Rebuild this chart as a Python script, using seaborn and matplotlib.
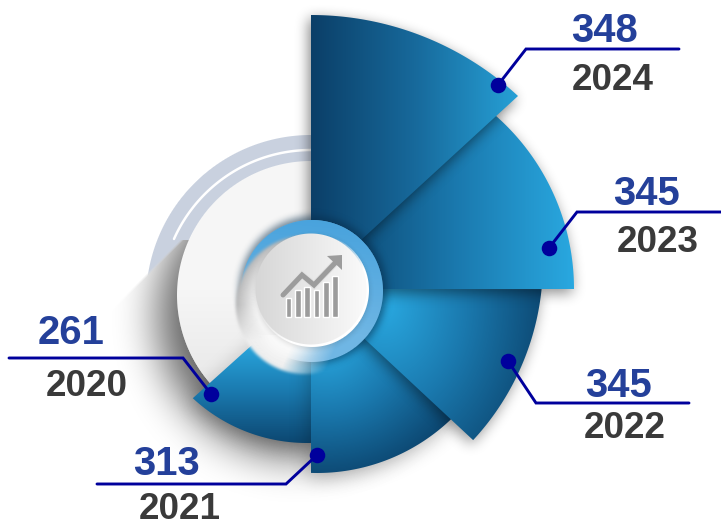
import numpy as np
import pandas as pd
import matplotlib
matplotlib.use("Agg")
import matplotlib.pyplot as plt
from matplotlib.path import Path
from matplotlib.patches import Polygon
import seaborn as sns

# Data
years = ["2020", "2021", "2022", "2023", "2024"]
values = [261, 313, 345, 345, 348]
icon_bar_tops = [298, 290, 287, 290, 282, 276]

# Layout, in image pixels
W, H = 721, 521
dot_x = [211, 317, 508, 549, 498]
dot_y = [394, 455, 361, 248, 85]
elbow_x = [183, 286, 536, 577, 526]
elbow_y = [358, 484, 403, 212, 49]
end_x = [9, 97, 689, 721, 679]
value_x = [71, 166.5, 618.5, 646.5, 604]
value_y = [329, 460, 382, 190, 27]
year_x = [86.5, 179.5, 625, 658, 613]
year_y = [383, 505.5, 425, 238, 77]

sns.set_theme(style="white")
plt.rcParams["font.family"] = ["Liberation Sans", "DejaVu Sans"]

X, Y = np.meshgrid(np.arange(W) + 0.5, np.arange(H) + 0.5)
GRID = np.column_stack([X.ravel(), Y.ravel()])
EXTENT = (0, W, H, 0)

fig = plt.figure(figsize=(W / 100, H / 100), dpi=100)
ax = fig.add_axes([0, 0, 1, 1])


def box(a, r, axis):
    c = np.cumsum(a, axis=axis)
    pad = [(0, 0), (0, 0)]
    pad[axis] = (r + 1, r)
    c = np.pad(c, pad, mode="edge")
    if axis == 0:
        c[: r + 1, :] = 0
        return (c[2 * r + 1:, :] - c[: -(2 * r + 1), :]) / (2 * r + 1)
    c[:, : r + 1] = 0
    return (c[:, 2 * r + 1:] - c[:, : -(2 * r + 1)]) / (2 * r + 1)


def blur(a, r):
    for _ in range(3):
        a = box(box(a, r, 0), r, 1)
    return a


def arc_poly(apex, cx, cy, R, p_start, p_end):
    a0 = np.arctan2(p_start[1] - cy, p_start[0] - cx)
    a1 = np.arctan2(p_end[1] - cy, p_end[0] - cx)
    if a1 - a0 > np.pi:
        a1 -= 2 * np.pi
    if a0 - a1 > np.pi:
        a1 += 2 * np.pi
    t = np.linspace(a0, a1, 80)
    pts = np.column_stack([cx + R * np.cos(t), cy + R * np.sin(t)])
    return np.vstack([apex, pts])


def mask_of(poly):
    return Path(poly).contains_points(GRID).reshape(H, W).astype(float)


def disc(cx, cy, r):
    return np.clip(r - np.hypot(X - cx, Y - cy) + 0.5, 0, 1)


def paint_rgba(rgba, z):
    ax.imshow(rgba, extent=EXTENT, aspect="auto", zorder=z, interpolation="bilinear")


def paint_alpha(color, alpha, z):
    rgba = np.zeros((H, W, 4))
    rgba[..., :3] = matplotlib.colors.to_rgb(color)
    rgba[..., 3] = np.clip(alpha, 0, 1)
    paint_rgba(rgba, z)


def paint_wedge(poly, t, cmap, z):
    im = ax.imshow(cmap(np.clip(t, 0, 1)), extent=EXTENT, aspect="auto", zorder=z)
    im.set_clip_path(Polygon(poly, closed=True, transform=ax.transData))


blue = sns.blend_palette(["#0c4670", "#1a78ad", "#29a8e0"], as_cmap=True)
cool = sns.blend_palette(["#0b3f68", "#17699b", "#26a0d6"], as_cmap=True)

# grey ring behind the white disc, it stops at the shadow's diagonal
below = np.clip(((X - 147) + (Y - 273)) / 4, 0, 1) * (Y >= 240)
paint_alpha("#c9d1df", disc(311, 300, 165) * (X < 311) * (1 - below), 1)
arc_t = np.linspace(np.radians(180 + 24), np.radians(270), 60)
ax.plot(311 + 150 * np.cos(arc_t), 300 + 150 * np.sin(arc_t), color="white", lw=1.8, zorder=1.2)

# big soft shadow, lower left of the white disc
soft = blur(disc(298, 316, 140), 20)
paint_alpha("#000000", soft * below * 0.62, 1.5)
paint_alpha("#f6f6f6", disc(311, 295, 134), 2)
paint_alpha("#e9e9e9", disc(311, 295, 134) * np.clip((Y - 290) / 90, 0, 1), 2.1)

# wedges, back to front
poly_2020 = arc_poly((311, 292), 307, 275, 168, (193, 398), (311, 443))
poly_2021 = arc_poly((311, 292), 317, 279, 194, (311, 473), (460, 410))
poly_2022 = arc_poly((311, 289), 281, 262, 262, (473, 440), (541, 289))
poly_2023 = arc_poly((311, 289), 343, 289, 231, (574, 289), (480, 100))
poly_2024 = arc_poly((311, 286), 311, 320, 305, (518, 96), (311, 15))

stack = [
    (poly_2020, 1 - (Y - 342) / 102, blue, 9, 0.2),
    (poly_2021, 1 - np.hypot((X - 325) / 150, (Y - 345) / 135), blue, 9, 0.28),
    (poly_2022, 1 - np.hypot((X - 385) / 165, (Y - 305) / 210), blue, 6, 0.4),
    (poly_2023, (X - 335) / 239, blue, 6, 0.45),
    (poly_2024, (X - 311) / 207, cool, 6, 0.5),
]
for i, (poly, t, cmap, r, a) in enumerate(stack):
    m = mask_of(poly)
    z = 3 + i
    shift = np.roll(np.roll(m, 4, axis=0), -2, axis=1)
    paint_alpha("#000000", blur(shift, r) * a, z)
    paint_wedge(poly, t, cmap, z + 0.5)

# centre badge
c_x, c_y = 312, 290
paint_alpha("#062c4a", blur(disc(c_x + 1, c_y, 74), 3) * 0.55, 9)
paint_alpha("#6fb6e4", disc(c_x, c_y + 1, 71), 9.2)
top_blue = np.clip((c_y + 40 - Y + (X - c_x) * 0.1) / 110, 0, 1)
paint_alpha("#3f9edb", disc(c_x, c_y + 1, 71) * top_blue * 0.8, 9.3)

# grey lip that covers the blue ring on the lower left
fade = np.clip((50 - (X - 305) - (Y - 305) * 0.45) / 45, 0, 1)
cover = blur(disc(305, 305, 69), 1) * fade
dist = np.hypot(X - 305, Y - 305)
tone = 0.96 - 0.24 * np.clip((dist - 48) / 21, 0, 1) * np.clip((345 - Y) / 40, 0.1, 1)
shade = np.zeros((H, W, 4))
shade[..., 0] = shade[..., 1] = shade[..., 2] = tone
shade[..., 3] = cover
paint_rgba(shade, 9.4)

# glow where the lip meets the 2020 wedge
paint_alpha("#ffffff", blur(disc(290, 330, 26), 5) * 0.55 * (Y > 335), 9.45)

paint_alpha("#000000", blur(disc(c_x + 1, c_y + 2, 57), 2) * 0.12, 9.5)
rim = np.clip((X - c_x + Y - c_y + 30) / 60, 0, 1)
paint_alpha("#ffffff", disc(c_x, c_y, 57) * rim, 9.6)
face = np.zeros((H, W, 4))
face_tone = 0.84 + 0.14 * np.clip((X - 255) / 110, 0, 1)
face[..., 0] = face[..., 1] = face[..., 2] = face_tone
face[..., 3] = disc(c_x - 1, c_y - 1, 55.5)
paint_rgba(face, 9.7)

# chart icon
icon_x = 288.5 + np.arange(6) * 9.3
ax.bar(icon_x, np.array(icon_bar_tops) - 317, bottom=317, width=5.6, color="#9c9c9c", zorder=10)
line_x = [283, 302, 314, 336]
line_y = [295, 275, 285, 262]
ax.plot(line_x, line_y, color="#e0e0e0", lw=5, zorder=10.1, solid_joinstyle="miter")
ax.plot(line_x, line_y, color="#9c9c9c", lw=3.6, zorder=10.2, solid_joinstyle="miter")
ax.add_patch(Polygon([(327, 256), (342, 255), (342, 270)], closed=True, color="#9c9c9c", zorder=10.3, lw=0))

# leaders, dots and labels
for i in range(len(years)):
    ax.plot([dot_x[i], elbow_x[i], end_x[i]], [dot_y[i], elbow_y[i], elbow_y[i]],
            color="#00009c", lw=2.1, zorder=11, solid_joinstyle="miter")
    ax.text(value_x[i], value_y[i], str(values[i]), color="#24409a", fontsize=28.8, fontweight="bold",
            ha="center", va="center_baseline", zorder=12)
    ax.text(year_x[i], year_y[i], years[i], color="#3a3a3a", fontsize=26.6, fontweight="bold",
            ha="center", va="center_baseline", zorder=12)

dots = pd.DataFrame({"x": dot_x, "y": dot_y})
sns.scatterplot(data=dots, x="x", y="y", s=125, color="#00009c", linewidth=0, ax=ax, zorder=13)

ax.set_xlim(0, W)
ax.set_ylim(H, 0)
ax.set_axis_off()
fig.savefig("out.png", dpi=100, facecolor="white")
